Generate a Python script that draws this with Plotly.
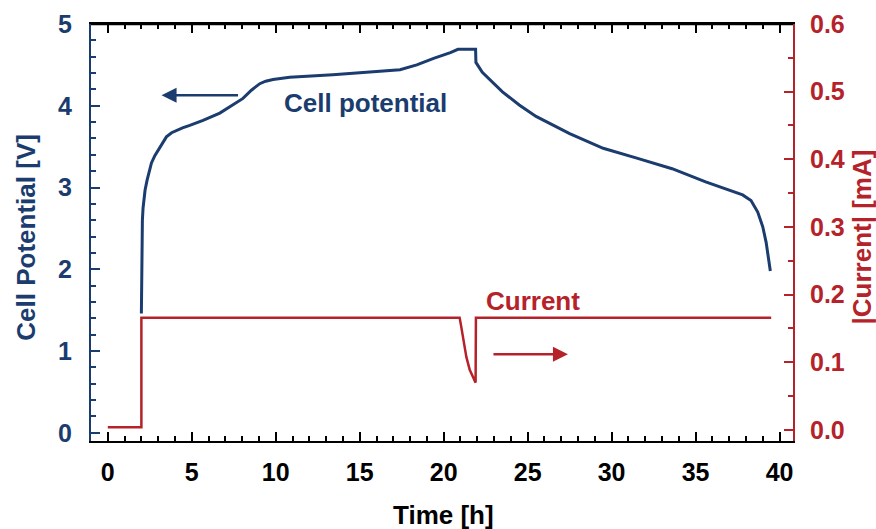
import plotly.graph_objects as go

BLUE = "#1B3C6E"
RED = "#B5222A"

# Cell potential (V) vs time (h)
time_v = [2.0, 2.01, 2.03, 2.06, 2.1, 2.14, 2.22, 2.34, 2.47, 2.6, 2.8, 3.0, 3.25, 3.49,
          3.8, 4.09, 4.45, 4.88, 5.67, 6.67, 7.46, 8.05, 8.55, 9.05, 9.4, 9.84, 10.83,
          12.0, 13.4, 15.4, 17.4, 18.4, 19.4, 20.4, 20.85, 21.9, 21.92, 22.3, 22.8,
          23.5, 24.5, 25.5, 27.5, 29.5, 31.5, 33.6, 35.6, 37.0, 37.8, 38.3, 38.7, 39.0,
          39.2, 39.35, 39.45]
potential = [1.46, 1.9, 2.3, 2.6, 2.75, 2.85, 2.97, 3.09, 3.2, 3.30, 3.39, 3.46, 3.55, 3.62,
             3.67, 3.70, 3.73, 3.76, 3.82, 3.91, 4.01, 4.09, 4.19, 4.27, 4.30, 4.32, 4.35,
             4.36, 4.38, 4.41, 4.44, 4.50, 4.58, 4.65, 4.69, 4.69, 4.53, 4.41, 4.31,
             4.17, 4.01, 3.87, 3.66, 3.48, 3.36, 3.23, 3.07, 2.97, 2.91, 2.84, 2.70, 2.52,
             2.33, 2.12, 1.98]

# |Current| (mA) vs time (h)
time_i = [0.0, 2.0, 2.0, 20.95, 21.05, 21.15, 21.25, 21.35, 21.55, 21.75, 21.9, 21.92, 39.5]
current = [0.004, 0.004, 0.166, 0.166, 0.152, 0.138, 0.121, 0.108, 0.089, 0.077, 0.070, 0.166, 0.166]

x_ticks = [0, 5, 10, 15, 20, 25, 30, 35, 40]
y1_ticks = [0, 1, 2, 3, 4, 5]
y2_ticks = [0.0, 0.1, 0.2, 0.3, 0.4, 0.5, 0.6]

FONT = "Liberation Sans, Arial, sans-serif"
X_RANGE = [-1.0, 40.8]

fig = go.Figure()
fig.add_trace(go.Scatter(x=time_v, y=potential, mode="lines",
                         line=dict(color=BLUE, width=3), yaxis="y", showlegend=False))
fig.add_trace(go.Scatter(x=time_i, y=current, mode="lines",
                         line=dict(color=RED, width=2.5), yaxis="y2", showlegend=False))
# transparent copy bound to the top x axis so that its ticks are drawn
fig.add_trace(go.Scatter(x=time_v, y=potential, mode="lines", xaxis="x2", yaxis="y",
                         line=dict(color="rgba(0,0,0,0)", width=0), opacity=0,
                         hoverinfo="skip", showlegend=False))

tickfont = dict(family=FONT, size=25, weight="bold")
titlefont = dict(family=FONT, size=26, weight="bold")

fig.update_layout(
    width=876, height=529,
    margin=dict(l=91, r=83, t=24, b=88, autoexpand=False),
    plot_bgcolor="white", paper_bgcolor="white",
    xaxis=dict(
        range=X_RANGE, tickvals=x_ticks, ticktext=[str(v) for v in x_ticks],
        showgrid=False, zeroline=False, automargin=False,
        showline=True, linecolor="black", linewidth=2,
        ticks="inside", ticklen=9, tickwidth=2, tickcolor="black",
        minor=dict(dtick=1, ticks="inside", ticklen=5, tickwidth=1.5, tickcolor="black"),
        tickfont=dict(color="black", **tickfont), ticklabelstandoff=8,
    ),
    xaxis2=dict(
        range=X_RANGE, overlaying="x", side="top", anchor="y",
        tickvals=x_ticks, showticklabels=False, automargin=False,
        showgrid=False, zeroline=False,
        showline=True, linecolor="black", linewidth=2,
        ticks="inside", ticklen=9, tickwidth=2, tickcolor="black",
        minor=dict(dtick=1, ticks="inside", ticklen=5, tickwidth=1.5, tickcolor="black"),
    ),
    yaxis=dict(
        range=[-0.1, 5.0], tickvals=y1_ticks, ticktext=[str(v) for v in y1_ticks],
        showgrid=False, zeroline=False, automargin=False,
        showline=True, linecolor=BLUE, linewidth=2,
        ticks="inside", ticklen=9, tickwidth=2, tickcolor=BLUE,
        minor=dict(dtick=0.2, ticks="inside", ticklen=5, tickwidth=1.5, tickcolor=BLUE),
        tickfont=dict(color=BLUE, **tickfont), ticklabelstandoff=12,
    ),
    yaxis2=dict(
        range=[-0.0163, 0.6], overlaying="y", side="right",
        tickvals=y2_ticks, ticktext=[f"{v:.1f}" for v in y2_ticks],
        showgrid=False, zeroline=False, automargin=False,
        showline=True, linecolor=RED, linewidth=2,
        ticks="inside", ticklen=9, tickwidth=2, tickcolor=RED,
        minor=dict(dtick=0.05, ticks="inside", ticklen=5, tickwidth=1.5, tickcolor=RED),
        tickfont=dict(color=RED, **tickfont), ticklabelstandoff=10,
    ),
    shapes=[
        dict(type="line", xref="paper", yref="paper", x0=0, x1=1, y0=1, y1=1,
             line=dict(color="black", width=2.5), layer="above"),
    ],
    annotations=[
        # axis titles
        dict(x=0.5015, y=-0.1775, xref="paper", yref="paper", text="Time [h]", showarrow=False,
             font=dict(color="black", **titlefont), xanchor="center", yanchor="middle"),
        dict(x=-0.0926, y=0.49, xref="paper", yref="paper", text="Cell Potential [V]", showarrow=False,
             textangle=-90, font=dict(color=BLUE, **titlefont), xanchor="center", yanchor="middle"),
        dict(x=1.098, y=0.49, xref="paper", yref="paper", text="|Current| [mA]", showarrow=False,
             textangle=-90, font=dict(color=RED, **titlefont), xanchor="center", yanchor="middle"),
        # in-plot labels and arrows
        dict(x=15.35, y=4.03, xref="x", yref="y", text="Cell potential", showarrow=False,
             font=dict(color=BLUE, **titlefont), xanchor="center", yanchor="middle"),
        dict(x=3.2, y=4.13, xref="x", yref="y", text="", showarrow=True, arrowhead=2,
             arrowsize=1.2, arrowwidth=2.5, arrowcolor=BLUE, ax=78, ay=0),
        dict(x=25.3, y=0.19, xref="x", yref="y2", text="Current", showarrow=False,
             font=dict(color=RED, **titlefont), xanchor="center", yanchor="middle"),
        dict(x=27.4, y=0.112, xref="x", yref="y2", text="", showarrow=True, arrowhead=2,
             arrowsize=1.2, arrowwidth=2.5, arrowcolor=RED, ax=-76, ay=0),
    ],
)

fig.write_html("out.html")
